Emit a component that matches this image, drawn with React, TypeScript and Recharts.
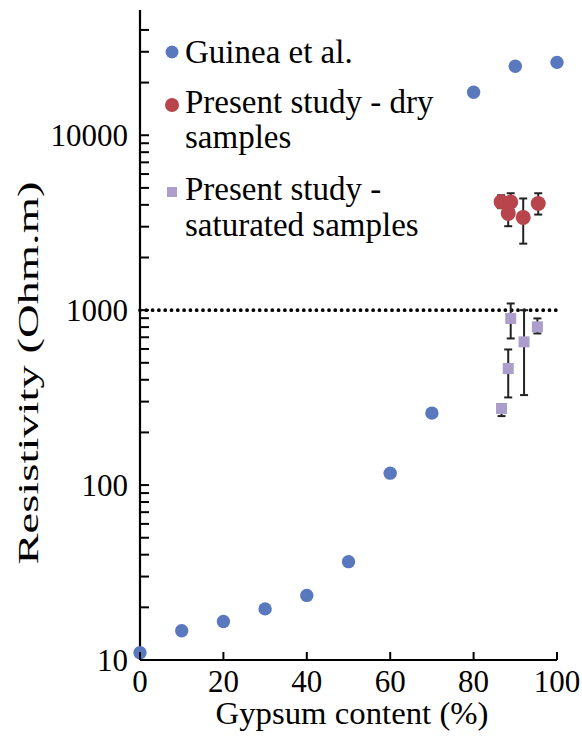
import { ScatterChart, Scatter, XAxis, YAxis, ErrorBar, ReferenceLine, Legend } from "recharts";

const guineaX = [0, 10, 20, 30, 40, 50, 60, 70, 80, 90, 100];
const guineaY = [11, 14.7, 16.6, 19.6, 23.4, 36.5, 117, 258, 17600, 24800, 26100];

const dryX = [86.6, 88.9, 88.3, 91.9, 95.5];
const dryY = [4160, 4150, 3570, 3390, 4070];
const dryLow = [3830, 3730, 3020, 2400, 3520];
const dryHigh = [4540, 4660, 4140, 4350, 4660];

const satX = [86.7, 88.3, 88.9, 92.1, 95.3];
const satY = [274, 464, 897, 659, 803];
const satLow = [248, 317, 689, 327, 736];
const satHigh = [290, 596, 1092, 1000, 897];

const xTicks = [0, 20, 40, 60, 80, 100];
const yLabels = [10, 100, 1000, 10000];
const yTicks = [
  10, 20, 30, 40, 50, 60, 70, 80, 90,
  100, 200, 300, 400, 500, 600, 700, 800, 900,
  1000, 2000, 3000, 4000, 5000, 6000, 7000, 8000, 9000,
  10000, 20000, 30000, 40000,
];

const FONT = "Liberation Serif";
const BLUE = "#5a78be";
const RED = "#b8454b";
const LILAC = "#ab9dcc";

const guineaData = guineaX.map((x, i) => ({ x, y: guineaY[i] }));
const dryData = dryX.map((x, i) => ({ x, y: dryY[i], err: [dryY[i] - dryLow[i], dryHigh[i] - dryY[i]] }));
const satData = satX.map((x, i) => ({ x, y: satY[i], err: [satY[i] - satLow[i], satHigh[i] - satY[i]] }));

const YTick = (props: any) => {
  const { x, y, payload } = props;
  const ax = x + 12;
  return (
    <g>
      <line x1={ax} x2={ax + 9} y1={y} y2={y} stroke="#000" strokeWidth={2} />
      {yLabels.includes(payload.value) && (
        <text x={x} y={y} dy="0.34em" textAnchor="end" style={{ fontFamily: FONT }} fontSize={31} fill="#000">
          {payload.value}
        </text>
      )}
    </g>
  );
};

const XTick = (props: any) => {
  const { x, y, payload } = props;
  const ay = y - 8;
  return (
    <g>
      <line x1={x} x2={x} y1={ay} y2={ay - 8} stroke="#000" strokeWidth={2} />
      <text x={x} y={ay + 32} textAnchor="middle" style={{ fontFamily: FONT }} fontSize={31} fill="#000">
        {payload.value}
      </text>
    </g>
  );
};

const circle = (color: string, r: number) => (p: any) => <circle cx={p.cx} cy={p.cy} r={r} fill={color} />;
const square = (p: any) => <rect x={p.cx - 5.5} y={p.cy - 5.5} width={11} height={11} fill={LILAC} />;

const LegendBox = () => (
  <svg width={582} height={250} style={{ display: "block", fontFamily: FONT }}>
    <g fontSize={33} fill="#000">
      <circle cx={172} cy={52} r={6.5} fill={BLUE} />
      <text x={185} y={63}>Guinea et al.</text>
      <circle cx={172} cy={105} r={7} fill={RED} />
      <text x={185} y={113}>Present study - dry</text>
      <text x={185} y={148}>samples</text>
      <rect x={167} y={187} width={10} height={10} fill={LILAC} />
      <text x={185} y={200}>Present study -</text>
      <text x={185} y={236}>saturated samples</text>
    </g>
  </svg>
);

export default function App() {
  return (
    <div style={{ position: "absolute", left: 0, top: 0, background: "#fff", fontFamily: FONT }}>
      <ScatterChart width={582} height={740} margin={{ top: 10, right: 25, bottom: 0, left: 0 }}>
        <XAxis
          type="number"
          dataKey="x"
          domain={[0, 100]}
          ticks={xTicks}
          interval={0}
          height={80}
          tickSize={0}
          tickMargin={8}
          tickLine={false}
          tick={<XTick />}
          axisLine={{ stroke: "#000", strokeWidth: 2.2 }}
          label={{
            content: () => (
              <text x={352} y={724} textAnchor="middle" style={{ fontFamily: FONT }} fontSize={31} textLength={273} lengthAdjust="spacingAndGlyphs" fill="#000">
                Gypsum content (%)
              </text>
            ),
          }}
        />
        <YAxis
          type="number"
          dataKey="y"
          scale="log"
          domain={[10, 52000]}
          allowDataOverflow
          ticks={yTicks}
          interval={0}
          width={140}
          tickSize={0}
          tickMargin={12}
          tickLine={false}
          tick={<YTick />}
          axisLine={{ stroke: "#000", strokeWidth: 2.2 }}
          label={{
            content: () => (
              <text transform="translate(38,373) rotate(-90)" textAnchor="middle" style={{ fontFamily: FONT }} fontSize={30} textLength={383} lengthAdjust="spacingAndGlyphs" fill="#000">
                Resistivity (Ohm.m)
              </text>
            ),
          }}
        />
        <ReferenceLine y={1000} stroke="#000" strokeWidth={3.8} strokeDasharray="0 6.3" strokeLinecap="round" />
        <Legend layout="vertical" align="center" verticalAlign="middle" wrapperStyle={{ top: 0, left: 0, width: 582, height: 250 }} content={LegendBox} />
        <Scatter name="Guinea et al." data={guineaData} fill={BLUE} shape={circle(BLUE, 6.7)} isAnimationActive={false} />
        <Scatter name="Present study - dry samples" data={dryData} fill={RED} shape={circle(RED, 7.5)} isAnimationActive={false}>
          <ErrorBar dataKey="err" direction="y" width={4} stroke="#222" strokeWidth={2} isAnimationActive={false} />
        </Scatter>
        <Scatter name="Present study - saturated samples" data={satData} fill={LILAC} shape={square} isAnimationActive={false}>
          <ErrorBar dataKey="err" direction="y" width={4} stroke="#222" strokeWidth={2} isAnimationActive={false} />
        </Scatter>
      </ScatterChart>
    </div>
  );
}
